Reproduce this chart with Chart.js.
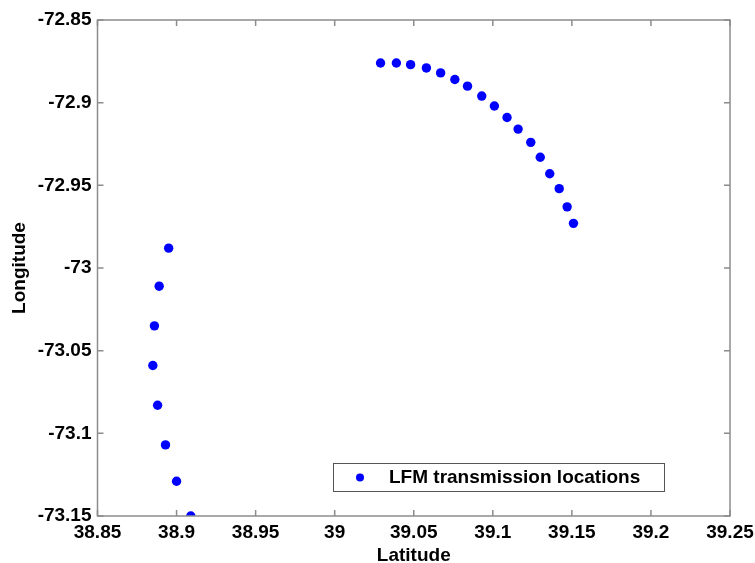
<!DOCTYPE html>
<html lang="en">
<head>
    <meta charset="UTF-8">
    <title>LFM transmission locations</title>
    <script src="https://cdn.jsdelivr.net/npm/chart.js"></script>
    <style>
        body {
            margin: 0;
            background: #FFFFFF;
        }
        #chartContainer {
            width: 755px;
            height: 563px;
        }
    </style>
</head>
<body>
    <div id="chartContainer">
        <canvas id="lfmChart"></canvas>
    </div>

    <script>
        // valores
        const arcoLat = [39.029, 39.039, 39.048, 39.058, 39.067, 39.076, 39.084, 39.093, 39.101,
                         39.109, 39.116, 39.124, 39.130, 39.136, 39.142, 39.147, 39.151];
        const arcoLon = [-72.876, -72.876, -72.877, -72.879, -72.882, -72.886, -72.890, -72.896, -72.902,
                         -72.909, -72.916, -72.924, -72.933, -72.943, -72.952, -72.963, -72.973];
        const curvaLat = [38.895, 38.889, 38.886, 38.885, 38.888, 38.893, 38.900, 38.909];
        const curvaLon = [-72.988, -73.011, -73.035, -73.059, -73.083, -73.107, -73.129, -73.150];

        const xTicks = [38.85, 38.9, 38.95, 39, 39.05, 39.1, 39.15, 39.2, 39.25];
        const yTicks = [-73.15, -73.1, -73.05, -73, -72.95, -72.9, -72.85];
        const legendaTexto = 'LFM transmission locations';

        const pontos = [];
        arcoLat.forEach((v, i) => pontos.push({ x: v, y: arcoLon[i] }));
        curvaLat.forEach((v, i) => pontos.push({ x: v, y: curvaLon[i] }));

        const fonte = { family: 'Arial, "Liberation Sans", sans-serif', size: 19, weight: 'bold', lineHeight: 1 };
        const corEixo = '#8C8C8C';

        // caixa e ticks internos no estilo MATLAB
        const caixaPlugin = {
            id: 'caixa',
            afterDraw(chart) {
                const { ctx, chartArea: a, scales } = chart;
                ctx.save();
                ctx.strokeStyle = corEixo;
                ctx.lineWidth = 1.5;
                ctx.strokeRect(a.left, a.top, a.right - a.left, a.bottom - a.top);
                ctx.beginPath();
                xTicks.forEach(v => {
                    const px = scales.x.getPixelForValue(v);
                    ctx.moveTo(px, a.bottom); ctx.lineTo(px, a.bottom - 6);
                    ctx.moveTo(px, a.top); ctx.lineTo(px, a.top + 6);
                });
                yTicks.forEach(v => {
                    const py = scales.y.getPixelForValue(v);
                    ctx.moveTo(a.left, py); ctx.lineTo(a.left + 6, py);
                    ctx.moveTo(a.right, py); ctx.lineTo(a.right - 6, py);
                });
                ctx.stroke();

                // legenda
                const lx = 333, ly = 463, lw = 331, lh = 28;
                ctx.fillStyle = '#FFFFFF';
                ctx.fillRect(lx, ly, lw, lh);
                ctx.strokeStyle = '#555555';
                ctx.lineWidth = 1;
                ctx.strokeRect(lx + 0.5, ly + 0.5, lw, lh);
                ctx.fillStyle = '#0000FF';
                ctx.beginPath();
                ctx.arc(360, ly + lh / 2 + 0.5, 4, 0, Math.PI * 2);
                ctx.fill();
                ctx.fillStyle = '#000000';
                ctx.font = 'bold 19px Arial, "Liberation Sans", sans-serif';
                ctx.textBaseline = 'middle';
                ctx.fillText(legendaTexto, 389, ly + lh / 2 + 1);
                ctx.restore();
            }
        };

        const formatar = v => String(parseFloat(v.toFixed(2)));

        new Chart(document.getElementById('lfmChart'), {
            type: 'scatter',
            data: {
                datasets: [{
                    label: legendaTexto,
                    data: pontos,
                    backgroundColor: '#0000FF',
                    borderColor: '#0000FF',
                    pointRadius: 4.7,
                    pointHoverRadius: 4.7,
                    borderWidth: 0
                }]
            },
            options: {
                responsive: true,
                maintainAspectRatio: false,
                animation: false,
                layout: { padding: { left: 0, right: 25, top: 20, bottom: 0 } },
                plugins: {
                    legend: { display: false },
                    tooltip: { enabled: false }
                },
                scales: {
                    x: {
                        type: 'linear',
                        min: 38.85,
                        max: 39.25,
                        afterBuildTicks: s => { s.ticks = xTicks.map(v => ({ value: v })); },
                        afterFit: s => { s.height = 47; s.paddingLeft = 0; s.paddingRight = 0; },
                        grid: { display: false, drawTicks: false },
                        border: { display: false },
                        ticks: {
                            color: '#000000',
                            font: fonte,
                            padding: 7,
                            maxRotation: 0,
                            autoSkip: false,
                            callback: formatar
                        },
                        title: {
                            display: true,
                            text: 'Latitude',
                            color: '#000000',
                            font: fonte,
                            padding: { top: 0, bottom: -2 }
                        }
                    },
                    y: {
                        type: 'linear',
                        min: -73.15,
                        max: -72.85,
                        afterBuildTicks: s => { s.ticks = yTicks.map(v => ({ value: v })); },
                        afterFit: s => { s.width = 97.5; s.paddingTop = 0; s.paddingBottom = 0; },
                        grid: { display: false, drawTicks: false },
                        border: { display: false },
                        ticks: {
                            color: '#000000',
                            font: fonte,
                            padding: 6,
                            autoSkip: false,
                            callback: formatar
                        },
                        title: {
                            display: true,
                            text: 'Longitude',
                            color: '#000000',
                            font: fonte,
                            padding: { top: 10, bottom: 0 }
                        }
                    }
                }
            },
            plugins: [caixaPlugin]
        });
    </script>
</body>
</html>
